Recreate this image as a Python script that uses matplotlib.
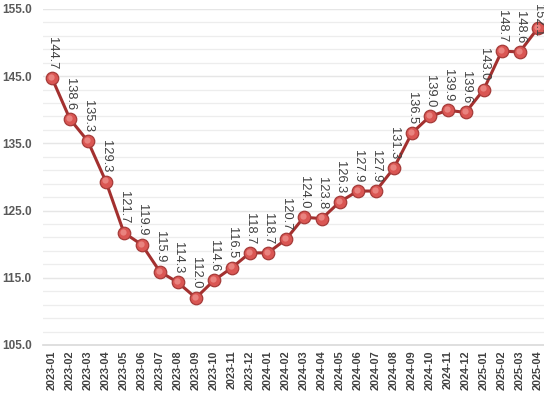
import matplotlib
matplotlib.use("Agg")
import matplotlib.pyplot as plt
import matplotlib.transforms as mtransforms

months = ["2023-01", "2023-02", "2023-03", "2023-04", "2023-05", "2023-06", "2023-07",
          "2023-08", "2023-09", "2023-10", "2023-11", "2023-12", "2024-01", "2024-02",
          "2024-03", "2024-04", "2024-05", "2024-06", "2024-07", "2024-08", "2024-09",
          "2024-10", "2024-11", "2024-12", "2025-01", "2025-02", "2025-03", "2025-04"]
values = [144.7, 138.6, 135.3, 129.3, 121.7, 119.9, 115.9, 114.3, 112.0, 114.6,
          116.5, 118.7, 118.7, 120.7, 124.0, 123.8, 126.3, 127.9, 127.9, 131.3,
          136.5, 139.0, 139.9, 139.6, 143.0, 148.7, 148.6, 152.1]
y_ticks = [105, 115, 125, 135, 145, 155]

plt.rcParams['font.family'] = ['Liberation Sans', 'DejaVu Sans']

fig = plt.figure(figsize=(5.44, 3.95), dpi=100)
ax = fig.add_axes([0.079, 0.1266, 0.926, 0.851])

x = list(range(len(values)))

# grid: light lines every 2 units
for v in range(107, 156, 2):
    ax.axhline(v, color='#EDEDED', lw=0.9, zorder=0)
for v in y_ticks[1:]:
    ax.axhline(v, color='#E6E6E6', lw=0.9, zorder=0)

ax.plot(x, values, color='#A3302F', lw=2.2, zorder=2, solid_capstyle='round')
ax.plot(x, values, ls='none', marker='o', ms=9, mfc='#DA5653', mec='#A53B39',
        mew=0.9, zorder=3)
hl = ax.transData + mtransforms.ScaledTranslation(-1.2 / 100, 1.2 / 100, fig.dpi_scale_trans)
ax.plot(x, values, ls='none', marker='o', ms=4.5, mfc='#EE8F8B', mec='none',
        alpha=0.8, zorder=4, transform=hl)

top_trans = mtransforms.blended_transform_factory(ax.transData, ax.transAxes)
for i, v in enumerate(values):
    if v > 150:
        # no room above: pinned to the top like excel does
        ax.annotate(f"{v:.1f}", (i, 1.0), xycoords=top_trans, xytext=(0, 3.5),
                    textcoords='offset points', rotation=270, ha='center', va='top',
                    fontsize=9.3, color='#404040', annotation_clip=False, zorder=5)
    else:
        ax.annotate(f"{v:.1f}", (i, v), xytext=(0, 6.5), textcoords='offset points',
                    rotation=270, ha='center', va='bottom', fontsize=9.3,
                    color='#404040', annotation_clip=False)

ax.set_xlim(-0.5, len(values) - 0.5)
ax.set_ylim(105, 155)
ax.set_yticks(y_ticks)
ax.set_yticklabels([f"{t:.1f}" for t in y_ticks], fontsize=8.5, fontweight='bold',
                   color='#595959')
ax.set_xticks(x)
ax.set_xticklabels(months, rotation=90, fontsize=7.8, fontweight='bold', color='#404040')
ax.tick_params(length=0, pad=4)
ax.tick_params(axis='y', pad=8)

for s in ['top', 'right', 'left']:
    ax.spines[s].set_visible(False)
ax.spines['bottom'].set_color('#D9D9D9')
ax.spines['bottom'].set_linewidth(1.2)

fig.savefig('out.png', dpi=100)
